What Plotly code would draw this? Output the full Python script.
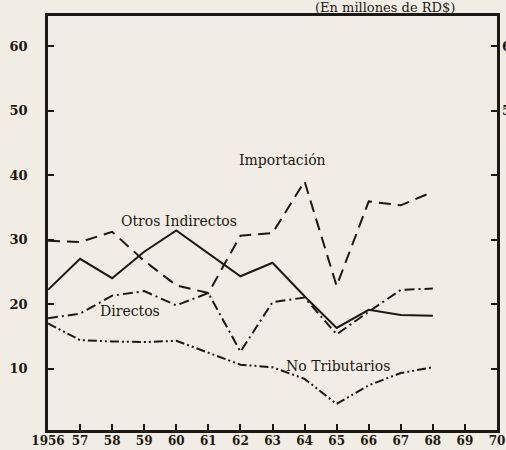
import plotly.graph_objects as go

# Recaudación por tipo de ingreso, 1956-1968 (millones de RD$)
years = [1956, 1957, 1958, 1959, 1960, 1961, 1962, 1963, 1964, 1965, 1966, 1967, 1968]
otros_indirectos = [22.2, 27.0, 24.0, 28.1, 31.4, 27.9, 24.3, 26.4, 21.2, 16.3, 19.1, 18.3, 18.2]
importacion = [29.8, 29.6, 31.2, 26.7, 22.9, 21.7, 30.6, 31.0, 39.0, 22.8, 35.9, 35.3, 37.4]
directos = [17.8, 18.5, 21.3, 22.0, 19.8, 21.7, 12.6, 20.3, 21.0, 15.3, 18.8, 22.2, 22.4]
no_tributarios = [17.0, 14.4, 14.2, 14.1, 14.3, 12.4, 10.6, 10.2, 8.4, 4.5, 7.4, 9.3, 10.2]

x_ticks = list(range(1956, 1971))
x_tick_text = ["1956"] + [str(y % 100) for y in x_ticks[1:]]
y_ticks = [10, 20, 30, 40, 50, 60]

ink = "#1c1915"
paper = "#f1ede4"
serif = "DejaVu Serif"

series = [
    ("Otros Indirectos", otros_indirectos, "solid"),
    ("Importación", importacion, "12px,7px"),
    ("Directos", directos, "10px,4px,2px,4px"),
    ("No Tributarios", no_tributarios, "9px,3px,2px,3px,2px,3px"),
]

fig = go.Figure()
for name, vals, dash in series:
    fig.add_trace(go.Scatter(
        x=years, y=vals, mode="lines", name=name,
        line=dict(color=ink, width=2, dash=dash),
        showlegend=False,
    ))

# invisible trace to anchor the right-hand axis labels
fig.add_trace(go.Scatter(x=[years[0]], y=[None], yaxis="y2", showlegend=False,
                         hoverinfo="skip"))

# Series names written next to their lines
labels = [
    ("Importación", 1963.3, 42.3),
    ("Otros Indirectos", 1960.1, 32.9),
    ("Directos", 1958.56, 18.9),
    ("No Tributarios", 1965.04, 10.4),
]
for text, lx, ly in labels:
    fig.add_annotation(x=lx, y=ly, text=text, showarrow=False,
                       xanchor="center", yanchor="middle",
                       font=dict(family=serif, size=14, color=ink))

# Units note above the frame
fig.add_annotation(x=0.7506, y=1.0217, xref="paper", yref="paper",
                   xanchor="center", yanchor="middle",
                   text="(En millones de RD$)", showarrow=False,
                   font=dict(family=serif, size=13, color=ink))

fig.update_layout(
    width=506, height=450,
    margin=dict(l=48, r=9, t=16, b=20, autoexpand=False),
    paper_bgcolor=paper, plot_bgcolor=paper,
    xaxis=dict(
        range=[1956, 1970], tickvals=x_ticks, ticktext=x_tick_text,
        showgrid=False, zeroline=False, automargin=False,
        showline=True, linecolor=ink, linewidth=2.5, mirror=True,
        ticks="inside", ticklen=6, tickwidth=2, tickcolor=ink,
        tickfont=dict(family=serif, size=12, color=ink, weight="bold"),
        ticklabelstandoff=-2, ticklabeloverflow="allow",
    ),
    yaxis=dict(
        range=[0.47, 64.65], tickvals=y_ticks,
        showgrid=False, zeroline=False, automargin=False,
        showline=True, linecolor=ink, linewidth=2.5, mirror="ticks",
        ticks="inside", ticklen=6, tickwidth=2, tickcolor=ink,
        tickfont=dict(family=serif, size=13, color=ink, weight="bold"),
        ticklabelstandoff=15,
    ),
    yaxis2=dict(
        range=[0.47, 64.65], overlaying="y", side="right",
        tickvals=[50, 60], showgrid=False, zeroline=False, showline=False,
        automargin=False, ticklabeloverflow="allow",
        ticks="", tickfont=dict(family=serif, size=13, color=ink, weight="bold"),
        ticklabelstandoff=4,
    ),
)

fig.write_html("out.html")
